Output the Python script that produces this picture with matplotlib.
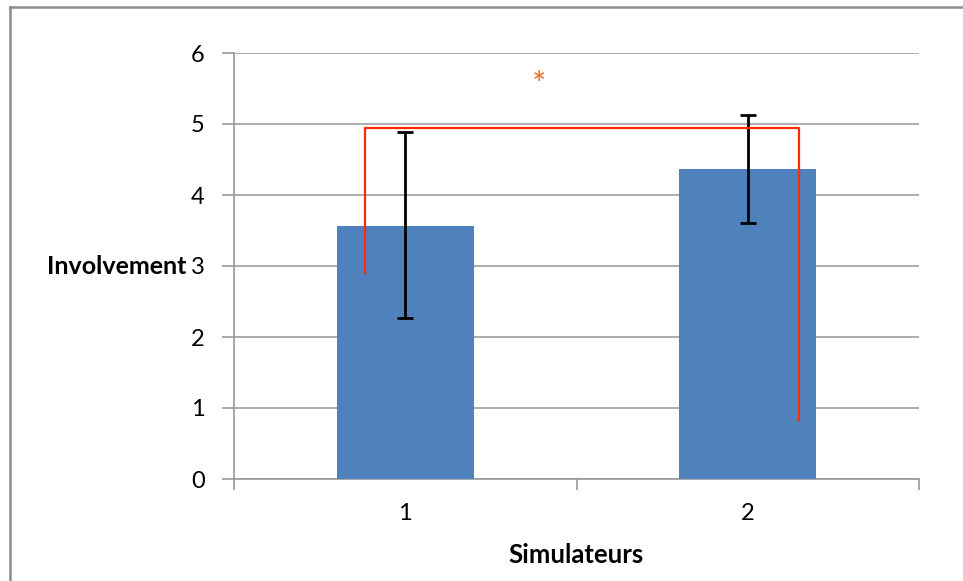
import matplotlib
matplotlib.use("Agg")
import matplotlib.pyplot as plt
from matplotlib.lines import Line2D

categories = ["1", "2"]
means = [3.57, 4.36]
err_low = [2.27, 3.61]
err_high = [4.89, 5.13]
yticks = [0, 1, 2, 3, 4, 5, 6]

bracket_y = 4.94
bracket_left_bottom = 2.905
bracket_right_bottom = 0.83
star_y = 5.53

plt.rcParams['font.family'] = ['Lato', 'DejaVu Sans']

fig = plt.figure(figsize=(9.63, 5.81), dpi=100)
ax = fig.add_axes([234/963, (581-479)/581, (919-234)/963, (479-53)/581])

x = list(range(len(categories)))
yerr = [[m - lo for m, lo in zip(means, err_low)], [hi - m for m, hi in zip(means, err_high)]]
ax.bar(x, means, width=0.4, color="#4F81BD", zorder=3)
ax.errorbar(x, means, yerr=yerr, fmt='none', ecolor='black', elinewidth=2, capsize=6, capthick=2, zorder=4)

# significance bracket
bx0, bx1 = -0.118, 1.15
ax.plot([bx0, bx0, bx1, bx1], [bracket_left_bottom, bracket_y, bracket_y, bracket_right_bottom],
        color="#FF2A00", lw=1.6, zorder=5)
ax.text(0.39, star_y, "*", color="#F07020", fontsize=24, ha='center', va='center', zorder=6)

ax.set_xlim(-0.5, 1.5)
ax.set_ylim(0, 6)
ax.set_yticks(yticks)
ax.set_yticklabels([str(t) for t in yticks], fontsize=17)
ax.set_xticks(x)
ax.set_xticklabels(categories, fontsize=17)
ax.tick_params(axis='x', which='major', length=0, pad=17)
ax.set_xticks([-0.5, 0.5, 1.5], minor=True)
ax.tick_params(axis='x', which='minor', length=8, color='#999999', width=1.2)
ax.tick_params(axis='y', length=9, color='#999999', width=1.2, pad=12)
ax.grid(axis='y', color='#A6A6A6', lw=1.3, zorder=0)
ax.set_axisbelow(True)
for s in ['top', 'right']:
    ax.spines[s].set_visible(False)
for s in ['left', 'bottom']:
    ax.spines[s].set_color('#999999')
    ax.spines[s].set_linewidth(1.2)

ax.set_xlabel("Simulateurs", fontsize=18.5, fontweight='bold', labelpad=14)
ax.set_ylabel("Involvement", fontsize=18, fontweight='bold', rotation=0, ha='right', va='center')
ax.yaxis.set_label_coords(-0.07, 0.5)

# outer frame (left and top edges)
fig.add_artist(Line2D([10/963, 10/963], [0, 1 - 7/581], color='#8C8C8C', lw=1.8, transform=fig.transFigure))
fig.add_artist(Line2D([10/963, 1], [1 - 7/581, 1 - 7/581], color='#8C8C8C', lw=1.8, transform=fig.transFigure))

fig.savefig("out.png", dpi=100)
